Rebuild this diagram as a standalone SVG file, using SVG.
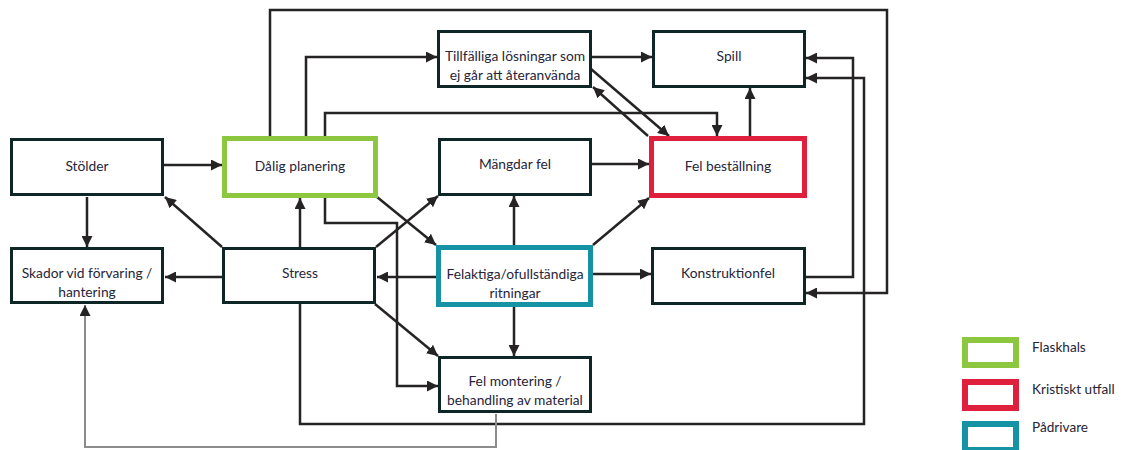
<svg xmlns="http://www.w3.org/2000/svg" width="1125" height="450" viewBox="0 0 1125 450">
  <style>
    .box { fill: #ffffff; stroke: #0f2626; stroke-width: 3; }
    .neck { fill: #ffffff; stroke: #8dc63f; stroke-width: 5; }
    .crit { fill: #ffffff; stroke: #e01f3d; stroke-width: 5; }
    .drive { fill: #ffffff; stroke: #1592a3; stroke-width: 5; }
    .lbl { font-family: Lato, "Open Sans", sans-serif; font-size: 13.8px; fill: #26253a; text-anchor: middle; }
    .leg { font-family: Lato, "Open Sans", sans-serif; font-size: 13.6px; fill: #26253a; }
    .conn { fill: none; stroke: #252323; stroke-width: 2.5; marker-end: url(#arrow); }
    .thin { fill: none; stroke: #8c8c8c; stroke-width: 2; marker-end: url(#arrow); }
  </style>
  <defs>
    <marker id="arrow" viewBox="0 0 10 10" refX="10" refY="5" markerWidth="11" markerHeight="11" markerUnits="userSpaceOnUse" orient="auto">
      <path d="M0,0 L10,5 L0,10 z" fill="#252323"/>
    </marker>
  </defs>
  <rect width="1125" height="450" fill="#ffffff"/>

  <!-- connectors -->
  <g id="connectors">
    <path class="conn" d="M164,165 H222"/>
    <path class="conn" d="M87,197 V247"/>
    <path class="conn" d="M222,247 L165,197"/>
    <path class="conn" d="M300,247 V198"/>
    <path class="conn" d="M222,277 H165"/>
    <path class="conn" d="M436,277 H377"/>
    <path class="conn" d="M376,247 L438,196"/>
    <path class="conn" d="M377,197 L436,245"/>
    <path class="conn" d="M325,198 V223 H397 V386 H438"/>
    <path class="conn" d="M375,304 L438,356"/>
    <path class="conn" d="M514,307 V356"/>
    <path class="conn" d="M514,245 V196"/>
    <path class="conn" d="M593,274 H651"/>
    <path class="conn" d="M593,245 L649,198"/>
    <path class="conn" d="M592,164 H649"/>
    <path class="conn" d="M750,136 V88"/>
    <path class="conn" d="M592,57 H652"/>
    <path class="conn" d="M591,69 L669,136"/>
    <path class="conn" d="M648,136 L593,87"/>
    <path class="conn" d="M306,136 V57 H437"/>
    <path class="conn" d="M325,136 V113 H717 V136"/>
    <path class="conn" d="M270,136 V10 H887 V293 H806"/>
    <path class="conn" d="M806,277 H853 V58 H806"/>
    <path class="conn" d="M300,304 V424 H864 V78 H806"/>
    <path class="thin" d="M496,414 V447 H85 V305"/>
  </g>

  <!-- nodes -->
  <g id="stolder">
    <rect class="box" x="11.5" y="139.5" width="151" height="55"/>
    <text class="lbl" x="87" y="171">Stölder</text>
  </g>
  <g id="dalig-planering">
    <rect class="neck" x="224.5" y="138.5" width="151" height="57"/>
    <text class="lbl" x="300" y="171">Dålig planering</text>
  </g>
  <g id="skador">
    <rect class="box" x="11.5" y="248.5" width="151" height="54"/>
    <text class="lbl" x="87" y="278">Skador vid förvaring /</text>
    <text class="lbl" x="87" y="297">hantering</text>
  </g>
  <g id="stress">
    <rect class="box" x="223.5" y="248.5" width="151" height="54"/>
    <text class="lbl" x="300" y="278">Stress</text>
  </g>
  <g id="tillfalliga">
    <rect class="box" x="438.5" y="31.5" width="152" height="55"/>
    <text class="lbl" x="515" y="61">Tillfälliga lösningar som</text>
    <text class="lbl" x="515" y="80">ej går att återanvända</text>
  </g>
  <g id="spill">
    <rect class="box" x="653.5" y="31.5" width="151" height="55"/>
    <text class="lbl" x="729" y="61">Spill</text>
  </g>
  <g id="mangdar-fel">
    <rect class="box" x="439.5" y="139.5" width="151" height="55"/>
    <text class="lbl" x="515" y="169">Mängdar fel</text>
  </g>
  <g id="fel-bestallning">
    <rect class="crit" x="651.5" y="138.5" width="153" height="57"/>
    <text class="lbl" x="728" y="171">Fel beställning</text>
  </g>
  <g id="felaktiga-ritningar">
    <rect class="drive" x="438.5" y="247.5" width="152" height="57"/>
    <text class="lbl" x="515" y="279">Felaktiga/ofullständiga</text>
    <text class="lbl" x="515" y="298">ritningar</text>
  </g>
  <g id="konstruktionfel">
    <rect class="box" x="652.5" y="248.5" width="152" height="55"/>
    <text class="lbl" x="728" y="278">Konstruktionfel</text>
  </g>
  <g id="fel-montering">
    <rect class="box" x="439.5" y="357.5" width="151" height="54"/>
    <text class="lbl" x="515" y="386">Fel montering /</text>
    <text class="lbl" x="515" y="405">behandling av material</text>
  </g>

  <!-- legend -->
  <g id="legend">
    <rect class="neck" x="965" y="340" width="51" height="25" style="stroke-width:6"/>
    <text class="leg" x="1032" y="352">Flaskhals</text>
    <rect class="crit" x="965" y="382" width="51" height="26" style="stroke-width:6"/>
    <text class="leg" x="1032" y="394">Kristiskt utfall</text>
    <rect class="drive" x="965" y="424" width="51" height="26" style="stroke-width:6"/>
    <text class="leg" x="1032" y="432">Pådrivare</text>
  </g>
</svg>
